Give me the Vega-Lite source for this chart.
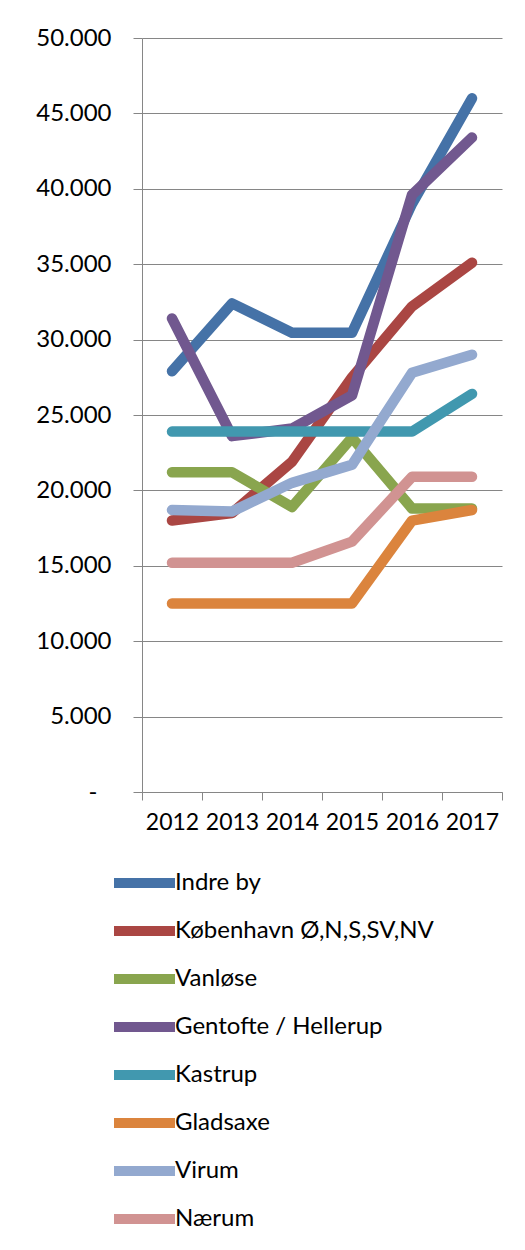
{
  "$schema": "https://vega.github.io/schema/vega-lite/v6.json",
  "width": 360,
  "height": 754,
  "autosize": "none",
  "padding": {"left": 142, "top": 38, "right": 23, "bottom": 458},
  "background": "white",
  "config": {"font": "Lato", "view": {"stroke": null}},
  "data": {"values": [
    {"region": "Indre by", "year": "2012", "value": 27900},
    {"region": "Indre by", "year": "2013", "value": 32400},
    {"region": "Indre by", "year": "2014", "value": 30450},
    {"region": "Indre by", "year": "2015", "value": 30450},
    {"region": "Indre by", "year": "2016", "value": 39000},
    {"region": "Indre by", "year": "2017", "value": 46000},
    {"region": "København Ø,N,S,SV,NV", "year": "2012", "value": 18000},
    {"region": "København Ø,N,S,SV,NV", "year": "2013", "value": 18500},
    {"region": "København Ø,N,S,SV,NV", "year": "2014", "value": 21900},
    {"region": "København Ø,N,S,SV,NV", "year": "2015", "value": 27500},
    {"region": "København Ø,N,S,SV,NV", "year": "2016", "value": 32200},
    {"region": "København Ø,N,S,SV,NV", "year": "2017", "value": 35100},
    {"region": "Vanløse", "year": "2012", "value": 21200},
    {"region": "Vanløse", "year": "2013", "value": 21200},
    {"region": "Vanløse", "year": "2014", "value": 18900},
    {"region": "Vanløse", "year": "2015", "value": 23500},
    {"region": "Vanløse", "year": "2016", "value": 18800},
    {"region": "Vanløse", "year": "2017", "value": 18800},
    {"region": "Gentofte / Hellerup", "year": "2012", "value": 31400},
    {"region": "Gentofte / Hellerup", "year": "2013", "value": 23600},
    {"region": "Gentofte / Hellerup", "year": "2014", "value": 24100},
    {"region": "Gentofte / Hellerup", "year": "2015", "value": 26300},
    {"region": "Gentofte / Hellerup", "year": "2016", "value": 39600},
    {"region": "Gentofte / Hellerup", "year": "2017", "value": 43400},
    {"region": "Kastrup", "year": "2012", "value": 23900},
    {"region": "Kastrup", "year": "2013", "value": 23900},
    {"region": "Kastrup", "year": "2014", "value": 23900},
    {"region": "Kastrup", "year": "2015", "value": 23900},
    {"region": "Kastrup", "year": "2016", "value": 23900},
    {"region": "Kastrup", "year": "2017", "value": 26400},
    {"region": "Gladsaxe", "year": "2012", "value": 12500},
    {"region": "Gladsaxe", "year": "2013", "value": 12500},
    {"region": "Gladsaxe", "year": "2014", "value": 12500},
    {"region": "Gladsaxe", "year": "2015", "value": 12500},
    {"region": "Gladsaxe", "year": "2016", "value": 18000},
    {"region": "Gladsaxe", "year": "2017", "value": 18700},
    {"region": "Virum", "year": "2012", "value": 18700},
    {"region": "Virum", "year": "2013", "value": 18600},
    {"region": "Virum", "year": "2014", "value": 20500},
    {"region": "Virum", "year": "2015", "value": 21700},
    {"region": "Virum", "year": "2016", "value": 27800},
    {"region": "Virum", "year": "2017", "value": 29000},
    {"region": "Nærum", "year": "2012", "value": 15200},
    {"region": "Nærum", "year": "2013", "value": 15200},
    {"region": "Nærum", "year": "2014", "value": 15200},
    {"region": "Nærum", "year": "2015", "value": 16600},
    {"region": "Nærum", "year": "2016", "value": 20900},
    {"region": "Nærum", "year": "2017", "value": 20900}
  ]},
  "mark": {"type": "line", "strokeWidth": 10.5, "strokeCap": "round", "strokeJoin": "round"},
  "encoding": {
    "x": {
      "field": "year", "type": "ordinal", "bandPosition": 0.5,
      "scale": {"type": "band", "paddingInner": 0, "paddingOuter": 0},
      "axis": {
        "title": null, "labelAngle": 0, "labelFontSize": 23, "labelColor": "black",
        "labelPadding": 11, "tickBand": "extent", "tickExtra": true, "tickSize": 8,
        "tickColor": "#868686", "domainColor": "#868686", "grid": false
      }
    },
    "y": {
      "field": "value", "type": "quantitative",
      "scale": {"domain": [0, 50000], "nice": false},
      "axis": {
        "title": null, "values": [0, 5000, 10000, 15000, 20000, 25000, 30000, 35000, 40000, 45000, 50000],
        "labelExpr": "datum.value == 0 ? '-' : replace(format(datum.value, ','), ',', '.')",
        "labelFontSize": 24, "labelColor": "black",
        "labelPadding": {"condition": {"test": "datum.value == 0", "value": 36}, "value": 22},
        "tickSize": 9, "tickColor": "#868686", "domainColor": "#868686",
        "grid": true, "gridColor": "#868686", "gridOpacity": 1
      }
    },
    "color": {
      "field": "region", "type": "nominal",
      "scale": {
        "domain": ["Indre by", "København Ø,N,S,SV,NV", "Vanløse", "Gentofte / Hellerup", "Kastrup", "Gladsaxe", "Virum", "Nærum"],
        "range": ["#4572A7", "#AA4643", "#89A54E", "#71588F", "#4198AF", "#DB843D", "#93A9CF", "#D19392"]
      },
      "legend": {
        "title": null, "orient": "none", "legendX": -33, "legendY": 830,
        "direction": "vertical", "columns": 1, "padding": 0,
        "symbolType": "stroke", "symbolSize": 3721, "symbolStrokeWidth": 10,
        "clipHeight": 30, "rowPadding": 18, "labelOffset": -5,
        "labelFontSize": 24, "labelColor": "black", "labelLimit": 400
      }
    }
  }
}
